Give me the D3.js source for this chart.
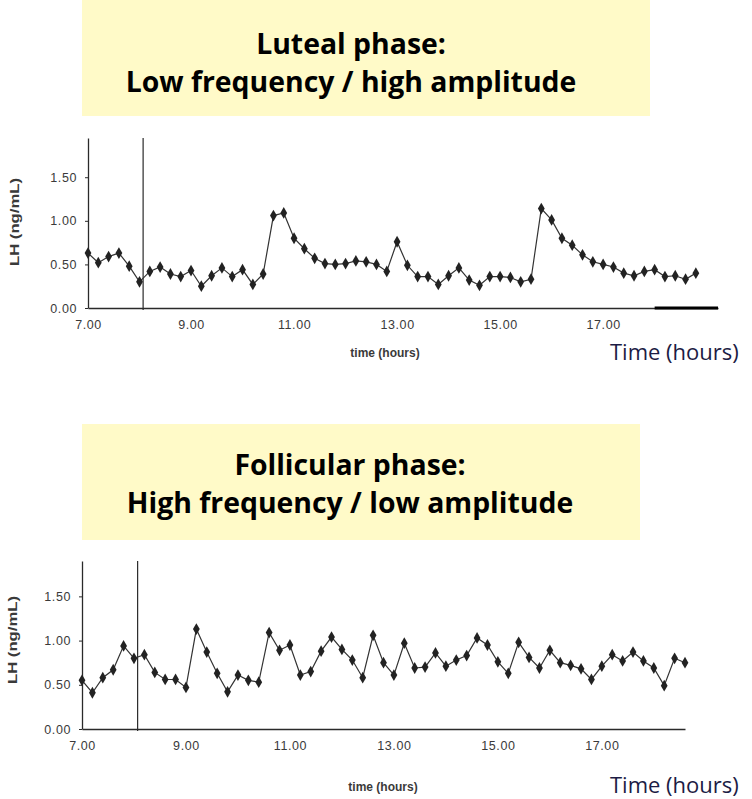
<!DOCTYPE html>
<html>
<head>
<meta charset="utf-8">
<script src="https://cdn.jsdelivr.net/npm/d3@7"></script>
<style>
  body { margin: 0; background: #fff; }
  svg { display: block; }
</style>
</head>
<body>
<svg id="chart" width="752" height="799"></svg>
<script>
// axis ticks
const tickHours = [7, 9, 11, 13, 15, 17];
const tickHourLabels = ['7.00', '9.00', '11.00', '13.00', '15.00', '17.00'];
const lhTicks = [0, 0.5, 1, 1.5];
const lhTickLabels = ['0.00', '0.50', '1.00', '1.50'];

// sampling: first sample at 7.00, then every 12 minutes
const sampleStartHour = 7;
const sampleStepHour = 0.2;

// LH (ng/mL)
const lutealLH = [
    0.63, 0.52, 0.59, 0.63, 0.48, 0.30, 0.42, 0.47, 0.39, 0.36,
    0.43, 0.25, 0.37, 0.46, 0.36, 0.44, 0.27, 0.39, 1.06, 1.09,
    0.80, 0.68, 0.57, 0.51, 0.50, 0.51, 0.54, 0.53, 0.50, 0.42,
    0.76, 0.49, 0.36, 0.36, 0.27, 0.37, 0.46, 0.32, 0.26, 0.36,
    0.36, 0.35, 0.30, 0.33, 1.14, 1.01, 0.80, 0.72, 0.61, 0.53,
    0.50, 0.47, 0.40, 0.37, 0.42, 0.44, 0.36, 0.37, 0.33, 0.40
];
const follicularLH = [
    0.55, 0.41, 0.58, 0.67, 0.94, 0.80, 0.84, 0.64, 0.56, 0.56,
    0.47, 1.13, 0.87, 0.63, 0.42, 0.61, 0.55, 0.53, 1.09, 0.89,
    0.95, 0.61, 0.65, 0.88, 1.04, 0.90, 0.78, 0.58, 1.06, 0.75,
    0.61, 0.97, 0.69, 0.70, 0.86, 0.71, 0.78, 0.83, 1.03, 0.95,
    0.76, 0.63, 0.98, 0.81, 0.69, 0.89, 0.75, 0.72, 0.68, 0.56,
    0.71, 0.84, 0.77, 0.87, 0.77, 0.69, 0.49, 0.80, 0.75
];

// vertical marker line (hours) and the dark bar on the luteal time axis
const markerHour = 8.07;
const lutealBarHours = [18.0, 19.23];

const lutealTitle = ['Luteal phase:', 'Low frequency / high amplitude'];
const follicularTitle = ['Follicular phase:', 'High frequency / low amplitude'];

const BOX_FILL = '#fffac8';
const INK = '#2a2a2a';
const TITLE_FONT = '"Open Sans", Lato, sans-serif';
const SCAN_FONT = '"Liberation Sans", Arial, sans-serif';

const svg = d3.select('#chart');

function drawPanel(cfg) {
    const g = svg.append('g');

    // title box
    g.append('rect')
        .attr('x', cfg.box[0]).attr('y', cfg.box[1])
        .attr('width', cfg.box[2]).attr('height', cfg.box[3])
        .attr('fill', BOX_FILL);

    g.selectAll('.title')
        .data(cfg.title)
        .join('text')
        .attr('class', 'title')
        .attr('x', cfg.titleX)
        .attr('y', (d, i) => cfg.titleY[i])
        .attr('text-anchor', 'middle')
        .attr('font-family', TITLE_FONT)
        .attr('font-weight', 'bold')
        .attr('font-size', 28.4)
        .attr('fill', '#000')
        .text(d => d);

    const x = d3.scaleLinear().domain(cfg.xDomain).range(cfg.xRange);
    const y = d3.scaleLinear().domain(cfg.yDomain).range(cfg.yRange);

    const pts = cfg.values.map((v, i) => ({ t: sampleStartHour + i * sampleStepHour, v }));

    // y axis
    const yAxis = g.append('g')
        .attr('transform', `translate(${cfg.xRange[0]},0)`)
        .call(d3.axisLeft(y)
            .tickValues(lhTicks)
            .tickFormat((d, i) => lhTickLabels[i])
            .tickSize(3)
            .tickSizeOuter(0)
            .tickPadding(8));

    // x axis
    const xAxis = g.append('g')
        .attr('transform', `translate(0,${cfg.yRange[0]})`)
        .call(d3.axisBottom(x)
            .tickValues(tickHours)
            .tickFormat((d, i) => tickHourLabels[i])
            .tickSize(0)
            .tickSizeOuter(0)
            .tickPadding(12));

    [yAxis, xAxis].forEach(ax => {
        ax.select('.domain').attr('stroke', INK).attr('stroke-width', 1.3);
        ax.selectAll('.tick line').attr('stroke', INK);
        ax.selectAll('.tick text')
            .attr('font-family', SCAN_FONT)
            .attr('font-size', 12.5)
            .attr('letter-spacing', 0.6)
            .attr('fill', '#3a3a3a');
    });

    // vertical marker
    g.append('line')
        .attr('x1', x(markerHour)).attr('x2', x(markerHour))
        .attr('y1', cfg.yRange[1]).attr('y2', cfg.yRange[0] + 2)
        .attr('stroke', INK)
        .attr('stroke-width', 1.2);

    if (cfg.bar) {
        g.append('line')
            .attr('x1', x(cfg.bar[0])).attr('x2', x(cfg.bar[1]))
            .attr('y1', y(0)).attr('y2', y(0))
            .attr('stroke', '#000')
            .attr('stroke-width', 3);
    }

    // trace
    g.append('path')
        .datum(pts)
        .attr('fill', 'none')
        .attr('stroke', '#333')
        .attr('stroke-width', 1.2)
        .attr('d', d3.line().x(d => x(d.t)).y(d => y(d.v)));

    g.selectAll('.pt')
        .data(pts)
        .join('path')
        .attr('class', 'pt')
        .attr('transform', d => `translate(${x(d.t)},${y(d.v)})`)
        .attr('fill', '#222')
        .attr('d', d3.symbol(d3.symbolDiamond, 40));

    // scanned axis titles
    g.append('text')
        .attr('transform', `translate(${cfg.yLabel[0]},${cfg.yLabel[1]}) rotate(-90)`)
        .attr('text-anchor', 'middle')
        .attr('dominant-baseline', 'central')
        .attr('font-family', SCAN_FONT)
        .attr('font-weight', 'bold')
        .attr('font-size', 13.5)
        .attr('textLength', 88)
        .attr('lengthAdjust', 'spacingAndGlyphs')
        .attr('fill', '#3a3a3a')
        .text('LH (ng/mL)');

    g.append('text')
        .attr('x', cfg.xLabel[0]).attr('y', cfg.xLabel[1])
        .attr('text-anchor', 'middle')
        .attr('font-family', SCAN_FONT)
        .attr('font-weight', 'bold')
        .attr('font-size', 12)
        .attr('fill', '#3a3a3a')
        .text('time (hours)');

    // overlaid axis caption
    g.append('text')
        .attr('x', 610).attr('y', cfg.captionY)
        .attr('font-family', TITLE_FONT)
        .attr('font-size', 22)
        .attr('fill', '#1c1c44')
        .text('Time  (hours)');
}

drawPanel({
    box: [82, 0, 568, 116],
    title: lutealTitle,
    titleX: 351,
    titleY: [54, 92],
    values: lutealLH,
    xDomain: [7, 19.23],
    xRange: [88, 718],
    yDomain: [0, 1.95],
    yRange: [308, 138],
    bar: lutealBarHours,
    yLabel: [14, 222],
    xLabel: [385, 357],
    captionY: 360
});

drawPanel({
    box: [82, 424, 558, 116],
    title: follicularTitle,
    titleX: 350,
    titleY: [475, 513],
    values: follicularLH,
    xDomain: [7, 18.6],
    xRange: [82, 685],
    yDomain: [0, 1.9],
    yRange: [729, 561],
    bar: null,
    yLabel: [12, 640],
    xLabel: [383, 791],
    captionY: 793
});
</script>
</body>
</html>
